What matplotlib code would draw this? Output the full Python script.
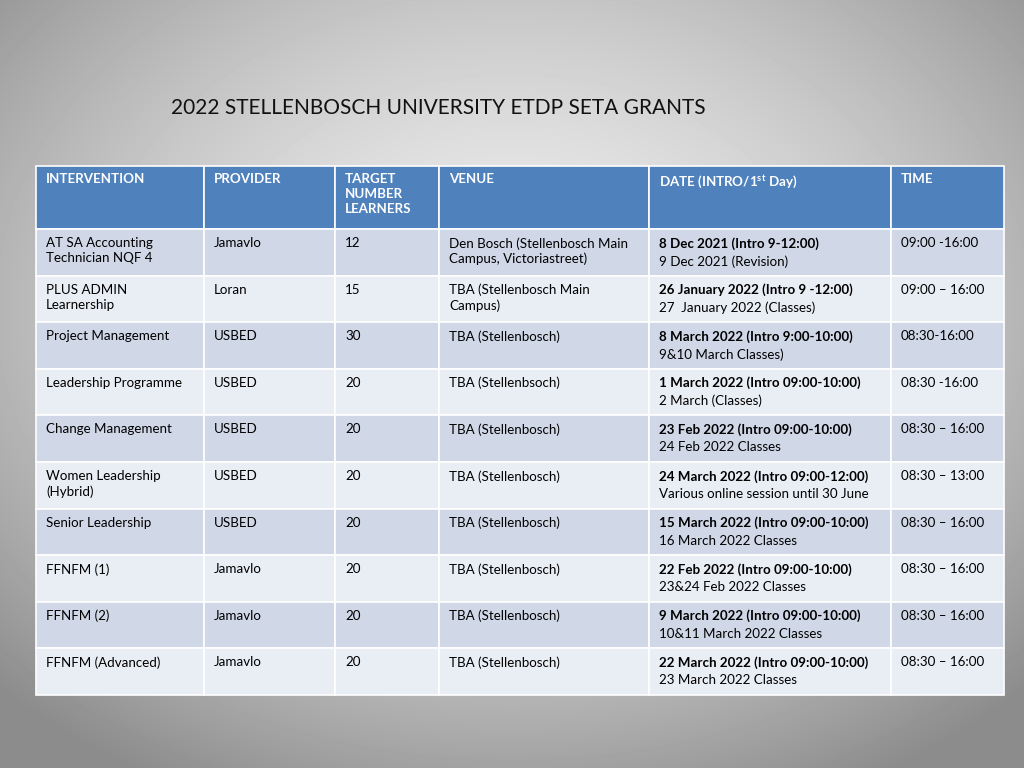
import numpy as np
import matplotlib.pyplot as plt
from matplotlib.patches import Rectangle

plt.rcParams["font.family"] = ["Lato", "DejaVu Sans"]
plt.rcParams["mathtext.fontset"] = "custom"
plt.rcParams["mathtext.rm"] = "Lato"
plt.rcParams["mathtext.bf"] = "Lato:bold"

title = "2022 STELLENBOSCH UNIVERSITY ETDP SETA GRANTS"
headers = ["INTERVENTION", "PROVIDER", "TARGET\nNUMBER\nLEARNERS", "VENUE",
           r"DATE (INTRO/1$^{\mathbf{st}}$ Day)", "TIME"]
interventions = ["AT SA Accounting\nTechnician NQF 4", "PLUS ADMIN\nLearnership",
                 "Project Management", "Leadership Programme", "Change Management",
                 "Women Leadership\n(Hybrid)", "Senior Leadership", "FFNFM (1)",
                 "FFNFM (2)", "FFNFM (Advanced)"]
providers = ["Jamavlo", "Loran", "USBED", "USBED", "USBED", "USBED", "USBED",
             "Jamavlo", "Jamavlo", "Jamavlo"]
targets = ["12", "15", "30", "20", "20", "20", "20", "20", "20", "20"]
venues = ["Den Bosch (Stellenbosch Main\nCampus, Victoriastreet)",
          "TBA (Stellenbosch Main\nCampus)", "TBA (Stellenbosch)", "TBA (Stellenbsoch)",
          "TBA (Stellenbosch)", "TBA (Stellenbosch)", "TBA (Stellenbosch)",
          "TBA (Stellenbosch)", "TBA (Stellenbosch)", "TBA (Stellenbosch)"]
date_intro = ["8 Dec 2021 (Intro 9-12:00)", "26 January 2022 (Intro 9 -12:00)",
              "8 March 2022 (Intro 9:00-10:00)", "1 March 2022 (Intro 09:00-10:00)",
              "23 Feb 2022 (Intro 09:00-10:00)", "24 March 2022 (Intro 09:00-12:00)",
              "15 March 2022 (Intro 09:00-10:00)", "22 Feb 2022 (Intro 09:00-10:00)",
              "9 March 2022 (Intro 09:00-10:00)", "22 March 2022 (Intro 09:00-10:00)"]
date_rest = ["9 Dec 2021 (Revision)", "27  January 2022 (Classes)", "9&10 March Classes)",
             "2 March (Classes)", "24 Feb 2022 Classes", "Various online session until 30 June",
             "16 March 2022 Classes", "23&24 Feb 2022 Classes", "10&11 March 2022 Classes",
             "23 March 2022 Classes"]
times = ["09:00 -16:00", "09:00 \u2013 16:00", "08:30-16:00", "08:30 -16:00",
         "08:30 \u2013 16:00", "08:30 \u2013 13:00", "08:30 \u2013 16:00",
         "08:30 \u2013 16:00", "08:30 \u2013 16:00", "08:30 \u2013 16:00"]

W, H = 1024, 768
fig = plt.figure(figsize=(W / 100, H / 100), dpi=100)
ax = fig.add_axes([0, 0, 1, 1])
ax.set_xlim(0, W)
ax.set_ylim(H, 0)
ax.axis("off")

# radial gray background
yy, xx = np.mgrid[0:H, 0:W]
r = np.sqrt(((xx - W / 2) / (W / 2)) ** 2 + ((yy - H * 0.4) / (H / 2)) ** 2)
bg = np.clip(0.93 - 0.22 * r ** 1.6, 0.55, 1)
ax.imshow(bg, cmap="gray", vmin=0, vmax=1, extent=(0, W, H, 0), zorder=0)

ax.text(171, 108, title, fontsize=15, va="center", ha="left", color="#111111")

col_x = [36, 204, 335, 439, 649, 891, 1004]
top, head_h, row_h = 166, 63, 46.6
fs = 9.6
ls = 1.3

for j, h in enumerate(headers):
    ax.add_patch(Rectangle((col_x[j], top), col_x[j + 1] - col_x[j], head_h,
                           fc="#4f81bd", ec="white", lw=1.2, zorder=1))
    ax.text(col_x[j] + 10, top + 7, h, fontsize=fs, fontweight="bold", color="white",
            va="top", ha="left", linespacing=ls, zorder=2)

for i in range(len(interventions)):
    y0 = top + head_h + i * row_h
    fc = "#d0d8e8" if i % 2 == 0 else "#e9edf4"
    vals = [interventions[i], providers[i], targets[i], venues[i], None, times[i]]
    for j, v in enumerate(vals):
        ax.add_patch(Rectangle((col_x[j], y0), col_x[j + 1] - col_x[j], row_h,
                               fc=fc, ec="white", lw=1.2, zorder=1))
        if v is not None:
            ax.text(col_x[j] + 10, y0 + 8, v, fontsize=fs, color="black",
                    va="top", ha="left", linespacing=ls, zorder=2)
    ax.text(col_x[4] + 10, y0 + 8, date_intro[i], fontsize=fs, fontweight="bold",
            va="top", ha="left", zorder=2)
    ax.text(col_x[4] + 10, y0 + 26, date_rest[i], fontsize=fs,
            va="top", ha="left", zorder=2)

fig.savefig("out.png", dpi=100)
